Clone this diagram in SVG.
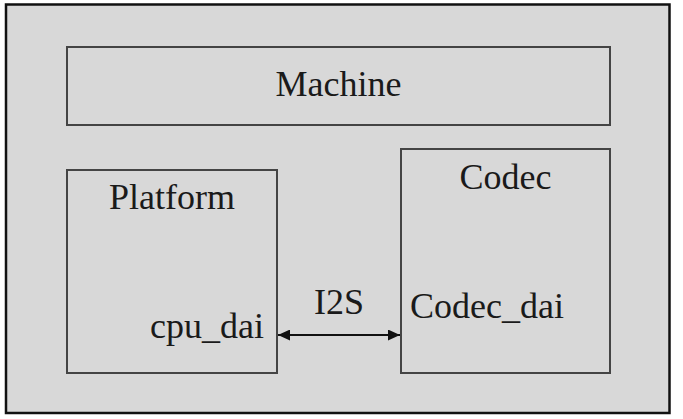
<svg xmlns="http://www.w3.org/2000/svg" width="683" height="419" viewBox="0 0 683 419">
<defs>
<style>
.box{fill:none;stroke:#444;stroke-width:2}
.t{font-family:"Liberation Serif","Times New Roman",serif;font-size:36px;fill:#1a1a1a}
.c{text-anchor:middle}
.conn{stroke:#111;stroke-width:2;fill:none}
</style>
<marker id="ah" viewBox="0 0 12 11" refX="12" refY="5.5" markerWidth="12" markerHeight="11" markerUnits="userSpaceOnUse" orient="auto-start-reverse">
<path d="M0,0 L12,5.5 L0,11 Z" fill="#111"/>
</marker>
</defs>
<rect x="0" y="0" width="683" height="419" fill="#fff"/>
<g id="frame">
<rect x="6" y="4.5" width="663.5" height="408.5" fill="#d8d8d8" stroke="#111" stroke-width="2.5"/>
</g>
<g id="machine">
<rect class="box" x="67" y="47" width="543" height="78"/>
<text class="t c" x="338.5" y="96">Machine</text>
</g>
<g id="platform">
<rect class="box" x="67" y="170" width="210" height="203"/>
<text class="t c" x="172" y="209">Platform</text>
<text class="t" x="150" y="338">cpu_dai</text>
</g>
<g id="codec">
<rect class="box" x="401" y="149" width="209" height="224"/>
<text class="t c" x="505.5" y="189">Codec</text>
<text class="t" x="410" y="318">Codec_dai</text>
</g>
<g id="connectors">
<line class="conn" x1="278" y1="335" x2="400" y2="335" marker-start="url(#ah)" marker-end="url(#ah)"/>
<text class="t c" x="339" y="314">I2S</text>
</g>
</svg>
